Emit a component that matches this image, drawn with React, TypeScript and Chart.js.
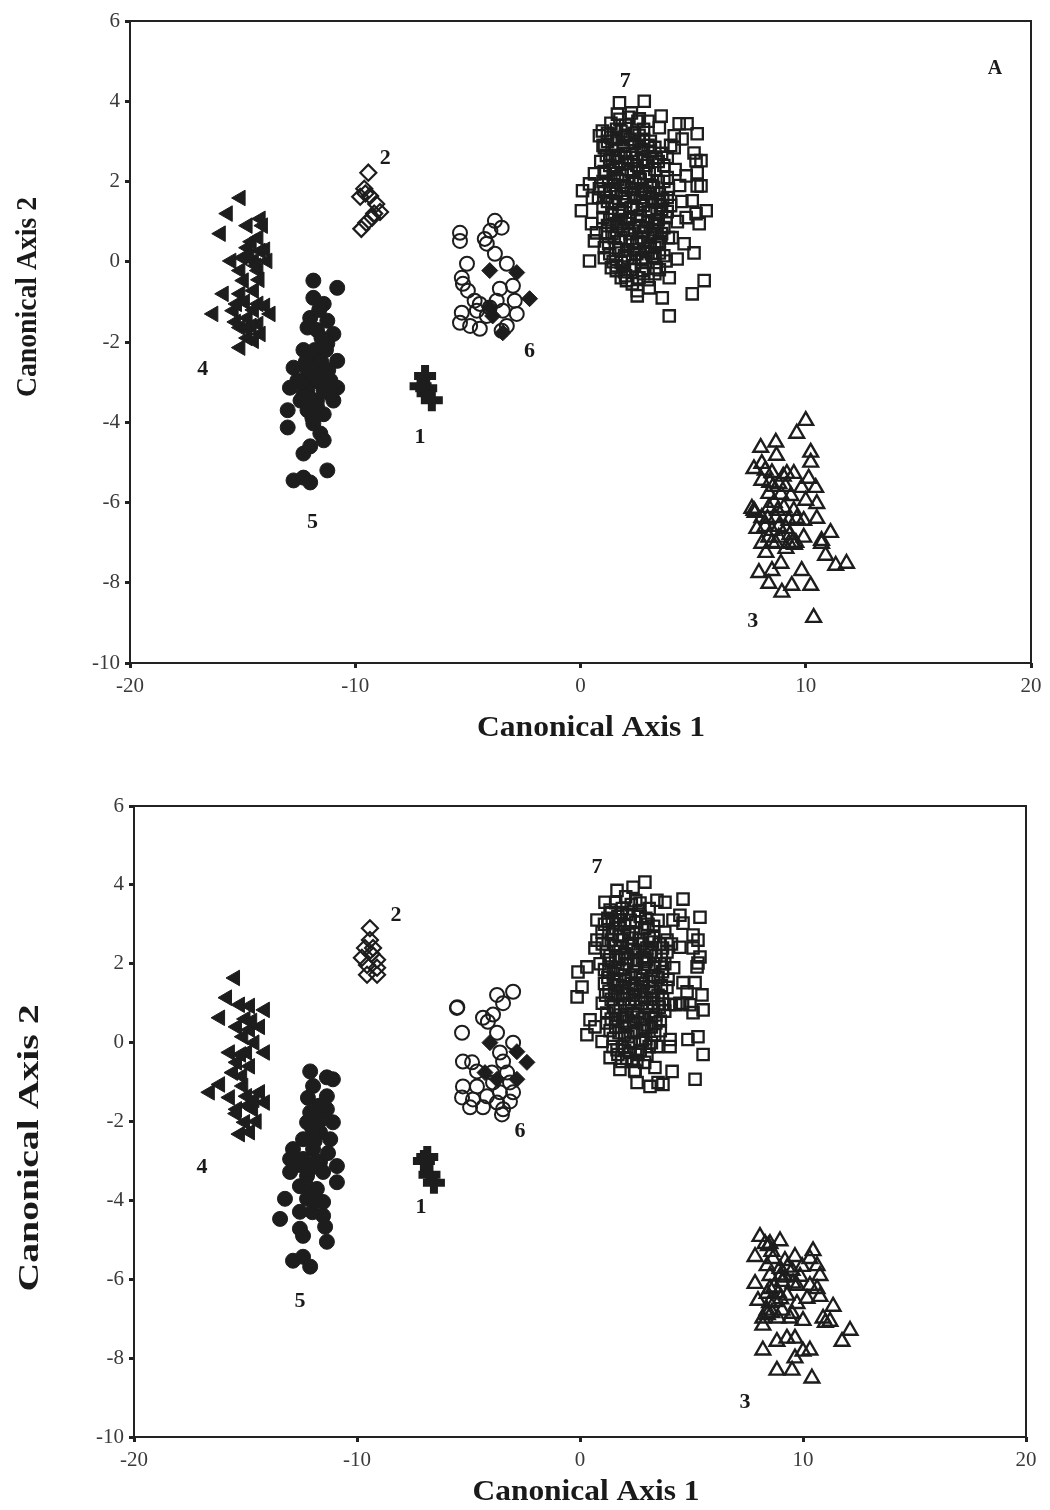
import React, { useEffect, useRef } from 'react';
import { Chart, registerables } from 'chart.js';
Chart.register(...registerables);

type P = [number, number];

const xTickValues = [-20, -10, 0, 10, 20];
const yTickValues = [-10, -8, -6, -4, -2, 0, 2, 4, 6];
const xTitle = 'Canonical Axis 1';
const yTitle = 'Canonical Axis 2';

// ---------- Panel A (top) ----------
const A_g1: P[] = [[-6.9, -2.85], [-7.1, -3.1], [-6.85, -3.15], [-6.6, -3.45]];
const A_g2: P[] = [[-9.42, 2.22], [-9.6, 1.82], [-9.34, 1.64], [-9.78, 1.62], [-9.07, 1.44], [-9.16, 1.2], [-8.9, 1.24], [-9.51, 0.97], [-9.73, 0.82], [-9.25, 1.1], [-9.55, 1.7]];
const A_g3: P[] = [
  [10.0, -3.96], [9.6, -4.28], [8.0, -4.63], [8.67, -4.5], [10.22, -4.75], [10.22, -5.0], [8.7, -4.83], [7.7, -5.16], [8.05, -5.03],
  [8.5, -5.26], [9.16, -5.28], [9.47, -5.28], [10.13, -5.4], [10.44, -5.63], [8.05, -5.45], [8.8, -5.53], [9.82, -5.63], [8.36, -5.78],
  [9.34, -5.83], [10.0, -5.95], [10.49, -6.03], [7.61, -6.15], [8.36, -6.13], [9.03, -6.13], [8.05, -6.38], [8.67, -6.38], [9.47, -6.2],
  [9.25, -6.45], [9.91, -6.45], [10.49, -6.4], [7.83, -6.65], [8.5, -6.7], [9.12, -6.65], [8.36, -6.87], [8.8, -6.87], [9.91, -6.87],
  [11.1, -6.75], [8.05, -7.02], [8.67, -7.02], [9.25, -7.02], [9.56, -7.0], [10.7, -7.02], [8.23, -7.25], [9.12, -7.15], [10.88, -7.32],
  [11.33, -7.57], [11.81, -7.52], [8.9, -7.52], [7.92, -7.75], [8.5, -7.7], [9.82, -7.7], [8.36, -8.02], [9.38, -8.07], [10.22, -8.07],
  [8.94, -8.24], [10.35, -8.87], [8.4, -5.5], [8.9, -5.8], [8.6, -6.0], [9.1, -5.6], [8.3, -6.4], [8.8, -6.6], [9.3, -6.8], [9.6, -6.4], [8.5, -7.0],
  [7.7, -6.2], [7.75, -6.25], [9.4, -7.0], [9.5, -7.05], [10.7, -6.95], [8.2, -5.2], [8.55, -5.6], [8.75, -6.2], [9.0, -5.35], [8.2, -6.6]
];
const A_g4: P[] = [
  [-15.09, 1.59], [-15.66, 1.2], [-14.2, 1.07], [-14.78, 0.9], [-15.97, 0.7], [-14.78, 0.35], [-14.2, 0.27], [-15.5, 0.02], [-14.5, 0.02],
  [-13.9, 0.02], [-15.1, -0.22], [-14.3, -0.22], [-14.95, -0.47], [-15.84, -0.8], [-15.1, -0.8], [-14.5, -0.72], [-16.3, -1.3], [-15.4, -1.22],
  [-14.3, -1.05], [-13.76, -1.3], [-14.78, -1.4], [-15.1, -1.64], [-14.3, -1.55], [-14.2, -1.8], [-14.78, -1.9], [-15.1, -2.14], [-14.5, -1.97],
  [-14.6, 0.5], [-14.3, 0.6], [-15.0, 0.1], [-14.0, 0.3], [-14.4, -0.1], [-14.9, -1.0], [-14.5, -1.2], [-14.0, -1.1], [-14.6, -1.6], [-15.3, -1.5],
  [-14.1, 0.9], [-14.7, 0.15], [-14.25, -0.45], [-15.25, -1.05], [-14.85, -1.65]
];
const A_g5: P[] = [
  [-11.86, -0.47], [-10.8, -0.65], [-11.86, -0.9], [-11.4, -1.05], [-12.0, -1.4], [-11.24, -1.47], [-12.12, -1.64], [-10.97, -1.8],
  [-11.24, -2.04], [-12.3, -2.2], [-11.86, -2.4], [-10.8, -2.47], [-12.74, -2.64], [-12.12, -2.7], [-11.55, -2.7], [-12.57, -2.96],
  [-11.86, -2.96], [-11.1, -2.96], [-12.9, -3.14], [-12.12, -3.2], [-11.4, -3.2], [-10.8, -3.14], [-12.43, -3.46], [-11.7, -3.46],
  [-10.97, -3.46], [-12.12, -3.7], [-11.4, -3.8], [-13.0, -3.7], [-13.0, -4.13], [-11.86, -4.03], [-11.55, -4.28], [-11.4, -4.45],
  [-12.3, -4.78], [-11.24, -5.2], [-12.74, -5.45], [-12.3, -5.38], [-12.0, -5.5], [-11.8, -2.2], [-11.5, -2.5], [-12.0, -3.4],
  [-11.6, -3.0], [-12.3, -3.3], [-11.9, -3.9], [-11.3, -2.2], [-11.7, -1.7], [-11.6, -1.2], [-11.5, -1.9], [-12.2, -2.5], [-11.2, -2.7],
  [-11.7, -3.6], [-12.4, -3.0], [-11.1, -3.3], [-12.0, -4.6]
];
const A_g6: P[] = [
  [-5.35, 0.72], [-5.35, 0.52], [-3.8, 1.02], [-3.5, 0.85], [-4.0, 0.77], [-4.25, 0.57], [-4.16, 0.45], [-3.8, 0.2], [-5.04, -0.05],
  [-3.27, -0.05], [-5.27, -0.4], [-5.22, -0.55], [-3.58, -0.67], [-3.0, -0.6], [-5.0, -0.72], [-4.7, -0.97], [-4.47, -1.05], [-3.72, -0.97],
  [-2.92, -0.97], [-5.27, -1.27], [-4.6, -1.22], [-4.03, -1.14], [-3.45, -1.22], [-2.83, -1.3], [-5.35, -1.52], [-4.9, -1.6], [-4.47, -1.67],
  [-3.5, -1.72], [-3.27, -1.6], [-4.16, -1.35]
];
const A_g6d: P[] = [[-4.03, -0.22], [-2.83, -0.27], [-2.26, -0.92], [-4.03, -1.14], [-3.9, -1.35], [-3.45, -1.77]];
const A_g7: P[] = [
  [1.73, 3.96], [2.83, 4.0], [1.64, 3.68], [2.26, 3.71], [3.58, 3.63], [2.61, 3.56], [4.38, 3.44], [4.73, 3.44], [5.18, 3.19], [0.97, 3.26],
  [0.84, 3.14], [3.5, 3.34], [4.16, 3.14], [4.51, 3.06], [1.06, 2.84], [4.16, 2.84], [5.04, 2.71], [5.13, 2.52], [5.35, 2.52], [5.18, 2.22],
  [4.69, 2.14], [0.62, 2.19], [0.4, 1.94], [0.09, 1.77], [5.18, 1.89], [5.35, 1.89], [0.84, 1.82], [0.04, 1.27], [0.53, 1.59], [5.58, 1.27],
  [4.96, 1.52], [5.13, 1.2], [4.69, 1.1], [5.27, 0.95], [0.49, 0.95], [0.71, 0.72], [0.62, 0.52], [1.06, 0.35], [4.6, 0.45], [5.04, 0.22],
  [4.07, 0.6], [0.4, 0.02], [1.06, 0.1], [1.37, -0.15], [1.81, -0.4], [2.3, -0.55], [2.52, -0.72], [2.52, -0.85], [3.05, -0.65], [3.63, -0.9],
  [3.94, -0.4], [3.8, 0.02], [4.29, 0.07], [5.49, -0.47], [4.96, -0.8], [3.94, -1.35], [2.04, -0.47], [1.59, -0.22], [2.74, -0.22], [3.36, -0.15],
  [3.5, 0.22], [1.81, -0.02],
  [1.2, 3.2], [1.6, 3.3], [2.0, 3.4], [2.4, 3.2], [2.8, 3.3], [3.1, 3.0], [1.0, 2.9], [1.4, 2.8], [1.9, 2.9], [2.3, 2.7], [2.7, 2.8], [3.2, 2.6],
  [3.6, 2.7], [4.0, 2.9], [0.9, 2.5], [1.3, 2.4], [1.7, 2.5], [2.1, 2.3], [2.5, 2.4], [2.9, 2.2], [3.3, 2.3], [3.7, 2.4], [4.2, 2.3],
  [1.0, 2.0], [1.5, 2.1], [1.9, 1.9], [2.3, 2.0], [2.7, 1.8], [3.1, 1.9], [3.5, 1.7], [3.9, 1.8], [4.4, 1.9],
  [0.8, 1.6], [1.2, 1.5], [1.6, 1.7], [2.0, 1.5], [2.4, 1.6], [2.8, 1.4], [3.2, 1.5], [3.6, 1.3], [4.0, 1.4], [4.5, 1.5],
  [1.0, 1.1], [1.4, 1.2], [1.8, 1.0], [2.2, 1.1], [2.6, 0.9], [3.0, 1.0], [3.4, 0.9], [3.8, 1.1], [4.3, 1.0],
  [1.1, 0.7], [1.5, 0.6], [1.9, 0.8], [2.3, 0.5], [2.7, 0.6], [3.1, 0.4], [3.5, 0.5], [3.9, 0.6],
  [1.3, 0.2], [1.7, 0.3], [2.1, 0.1], [2.5, 0.2], [2.9, 0.0], [3.3, 0.1], [1.6, -0.1], [2.2, -0.2], [2.8, -0.3], [3.5, -0.2],
  [1.5, 2.2], [2.6, 2.1], [1.3, 1.8], [2.9, 1.7], [1.7, 1.3], [2.5, 1.3], [3.4, 1.2], [2.1, 0.8], [2.4, 0.3], [1.9, 3.1], [2.6, 3.0],
  [3.0, 2.5], [2.0, 2.6], [1.1, 2.2], [3.7, 2.0], [3.3, 0.7], [1.4, 0.9],
  [1.2, 3.0], [1.6, 3.05], [2.0, 3.15], [2.4, 2.95], [2.8, 3.05], [3.3, 2.85], [1.15, 2.65], [1.55, 2.6], [1.95, 2.7], [2.35, 2.5],
  [2.75, 2.55], [3.1, 2.75], [3.45, 2.5], [3.85, 2.6], [1.05, 2.25], [1.45, 2.3], [1.85, 2.15], [2.25, 2.25], [2.65, 2.05], [3.05, 2.2],
  [3.45, 2.0], [3.85, 2.1], [1.05, 1.75], [1.45, 1.9], [1.85, 1.7], [2.25, 1.8], [2.65, 1.6], [3.05, 1.7], [3.45, 1.5], [3.85, 1.6],
  [1.0, 1.35], [1.4, 1.45], [1.85, 1.25], [2.25, 1.35], [2.65, 1.15], [3.05, 1.25], [3.45, 1.05], [3.85, 1.25], [1.2, 0.9], [1.6, 0.95],
  [2.0, 1.05], [2.4, 0.85], [2.8, 0.75], [3.2, 0.8], [3.6, 0.7], [1.25, 0.45], [1.7, 0.5], [2.1, 0.3], [2.5, 0.45], [2.9, 0.25],
  [3.3, 0.35], [3.7, 0.15], [1.45, 0.0], [1.95, -0.25], [2.4, -0.1], [2.7, 0.1], [3.0, -0.45], [3.3, -0.3], [1.75, 3.55], [2.15, 3.6],
  [2.55, 3.5], [1.35, 3.45], [3.0, 3.5],
  [1.35, 3.1], [1.8, 3.25], [2.2, 3.05], [2.6, 3.15], [3.0, 2.9], [1.3, 2.55], [1.7, 2.65], [2.1, 2.45], [2.5, 2.6], [2.9, 2.4], [3.35, 2.6],
  [1.25, 2.0], [1.65, 2.05], [2.05, 1.85], [2.45, 1.95], [2.85, 1.75], [3.25, 1.85], [3.65, 1.55], [1.15, 1.6], [1.55, 1.5], [1.95, 1.6],
  [2.35, 1.4], [2.75, 1.5], [3.15, 1.3], [3.55, 1.4], [1.3, 1.05], [1.7, 1.15], [2.1, 0.95], [2.5, 1.05], [2.9, 0.85], [3.3, 0.95],
  [3.7, 0.85], [1.4, 0.7], [1.8, 0.6], [2.2, 0.7], [2.6, 0.5], [3.0, 0.6], [3.4, 0.45], [1.55, 0.35], [1.95, 0.15], [2.35, 0.3],
  [2.75, 0.05], [3.15, 0.2], [2.0, -0.35], [2.6, -0.4]
];
const A_labelText = ['1', '2', '3', '4', '5', '6', '7', 'A'];
const A_labelX = [-7.12, -8.67, 7.65, -16.77, -11.9, -2.26, 1.99, 18.4];
const A_labelY = [-4.38, 2.59, -8.97, -2.67, -6.5, -2.22, 4.5, 4.8];

// ---------- Panel B (bottom) ----------
const B_g1: P[] = [[-6.85, -2.9], [-7.0, -3.0], [-6.75, -3.35], [-6.55, -3.55]];
const B_g2: P[] = [[-9.42, 2.9], [-9.42, 2.6], [-9.64, 2.4], [-9.28, 2.4], [-9.78, 2.15], [-9.1, 2.1], [-9.55, 1.97], [-9.1, 1.9], [-9.55, 1.72], [-9.1, 1.72], [-9.35, 2.25]];
const B_g3: P[] = [
  [8.07, -4.92], [8.97, -5.03], [8.52, -5.1], [10.45, -5.28], [7.85, -5.43], [8.65, -5.48], [9.64, -5.43], [10.31, -5.48], [9.19, -5.53],
  [8.39, -5.66], [9.96, -5.68], [10.63, -5.66], [8.97, -5.73], [9.51, -5.78], [10.76, -5.91], [8.52, -5.91], [9.87, -5.93], [7.85, -6.11],
  [9.06, -6.06], [9.73, -6.16], [10.31, -6.16], [8.52, -6.24], [10.63, -6.24], [8.39, -6.36], [9.28, -6.41], [10.76, -6.44], [10.18, -6.49],
  [7.98, -6.54], [8.74, -6.57], [9.73, -6.62], [8.39, -6.79], [9.06, -6.79], [9.51, -6.87], [11.35, -6.69], [8.2, -6.99], [8.88, -6.99],
  [9.42, -6.99], [10.0, -7.05], [10.9, -6.99], [11.21, -7.07], [8.2, -7.17], [12.11, -7.3], [11.75, -7.58], [8.83, -7.58], [9.28, -7.5],
  [9.64, -7.5], [8.2, -7.8], [10.0, -7.83], [10.31, -7.8], [9.64, -8.0], [8.83, -8.31], [9.51, -8.31], [10.4, -8.51],
  [8.6, -5.3], [9.0, -5.9], [8.7, -6.2], [9.3, -5.7], [8.5, -6.6], [9.0, -6.5], [8.3, -5.1], [8.45, -5.15], [11.0, -7.1], [8.4, -6.9],
  [9.2, -5.95], [8.9, -6.35], [8.6, -6.85], [9.55, -6.1]
];
const B_g4: P[] = [
  [-15.47, 1.64], [-15.83, 1.14], [-15.25, 0.96], [-14.8, 0.93], [-14.13, 0.83], [-16.14, 0.63], [-15.38, 0.4], [-14.8, 0.33], [-14.35, 0.4],
  [-15.1, 0.15], [-15.7, -0.25], [-14.93, -0.25], [-14.13, -0.25], [-15.38, -0.5], [-14.8, -0.6], [-15.56, -0.76], [-16.14, -1.06],
  [-16.6, -1.26], [-15.7, -1.39], [-14.93, -1.36], [-14.35, -1.26], [-15.38, -1.69], [-14.66, -1.69], [-14.13, -1.52], [-15.02, -2.02],
  [-15.25, -2.32], [-14.8, -2.27], [-15.0, 0.6], [-14.6, 0.0], [-15.2, -0.3], [-14.9, -1.6], [-15.4, -1.8], [-14.5, -2.0], [-15.1, -1.1],
  [-14.7, 0.55], [-15.15, -0.85], [-14.6, -1.45]
];
const B_g5: P[] = [
  [-12.1, -0.73], [-11.35, -0.88], [-11.08, -0.93], [-11.97, -1.1], [-11.35, -1.36], [-12.1, -1.77], [-11.35, -1.69], [-12.24, -2.02],
  [-11.08, -2.02], [-11.66, -2.27], [-12.42, -2.45], [-11.2, -2.45], [-12.87, -2.7], [-11.97, -2.7], [-13.0, -2.95], [-12.42, -2.95],
  [-11.66, -3.03], [-10.9, -3.13], [-13.0, -3.28], [-12.24, -3.38], [-11.52, -3.28], [-10.9, -3.54], [-12.56, -3.64], [-11.8, -3.71],
  [-12.24, -3.96], [-11.52, -4.04], [-13.23, -3.96], [-13.45, -4.47], [-12.56, -4.29], [-11.52, -4.39], [-12.56, -4.72], [-12.42, -4.9],
  [-11.43, -4.67], [-11.35, -5.05], [-12.87, -5.53], [-12.42, -5.43], [-12.1, -5.68], [-12.0, -2.2], [-11.8, -3.0], [-12.1, -3.2],
  [-11.9, -2.5], [-12.3, -3.6], [-11.7, -1.6], [-12.0, -4.3], [-11.6, -1.95], [-12.6, -3.1], [-11.3, -2.8], [-11.9, -4.0], [-12.2, -1.4]
];
const B_g6: P[] = [
  [-5.52, 0.88], [-5.5, 0.9], [-3.72, 1.21], [-3.0, 1.29], [-3.45, 1.0], [-3.9, 0.71], [-4.35, 0.63], [-4.13, 0.53], [-5.29, 0.25], [-3.72, 0.25],
  [-3.0, 0.0], [-5.25, -0.48], [-4.84, -0.5], [-3.59, -0.25], [-3.45, -0.48], [-4.62, -0.73], [-3.95, -0.76], [-3.27, -0.76],
  [-5.25, -1.11], [-4.62, -1.11], [-3.9, -1.01], [-3.14, -1.01], [-5.29, -1.39], [-4.8, -1.44], [-4.17, -1.36], [-3.59, -1.26],
  [-3.0, -1.26], [-4.93, -1.64], [-4.35, -1.64], [-3.72, -1.52], [-3.14, -1.49], [-3.45, -1.69], [-3.5, -1.82]
];
const B_g6d: P[] = [[-4.04, 0.0], [-2.83, -0.23], [-2.38, -0.5], [-4.26, -0.76], [-2.83, -0.93], [-3.72, -0.93]];
const B_g7: P[] = [
  [2.91, 4.07], [2.38, 3.94], [1.66, 3.86], [4.62, 3.64], [1.12, 3.56], [3.45, 3.61], [3.81, 3.56], [2.69, 3.54], [1.35, 3.36], [5.38, 3.18],
  [0.76, 3.11], [4.48, 3.23], [4.17, 3.11], [4.62, 3.03], [0.99, 2.8], [5.07, 2.73], [5.29, 2.6], [0.76, 2.6], [0.67, 2.4], [5.07, 2.4],
  [4.48, 2.42], [5.38, 2.17], [5.29, 2.02], [0.31, 1.92], [-0.09, 1.79], [5.25, 1.92], [0.09, 1.41], [-0.13, 1.16], [5.16, 1.52], [5.47, 1.21],
  [4.62, 1.52], [4.8, 1.29], [4.48, 1.0], [4.93, 0.96], [5.07, 0.76], [5.52, 0.83], [0.45, 0.58], [0.67, 0.4], [0.31, 0.2], [0.99, 0.03],
  [1.48, -0.1], [1.35, -0.38], [1.88, -0.48], [1.79, -0.68], [2.33, -0.48], [2.47, -0.73], [2.56, -1.01], [3.14, -1.11], [3.5, -1.01],
  [3.72, -1.06], [3.36, -0.63], [4.13, -0.73], [5.16, -0.93], [5.52, -0.3], [4.84, 0.08], [5.29, 0.15], [4.04, -0.1], [3.45, -0.1],
  [4.04, 0.08], [2.69, 0.0], [1.66, -0.18], [3.7, 0.98], [4.0, 0.97], [4.3, 0.96], [4.6, 0.98],
  [1.4, 3.3], [1.9, 3.4], [2.3, 3.5], [2.7, 3.2], [3.1, 3.4], [3.5, 3.1], [1.1, 3.0], [1.6, 2.9], [2.0, 3.0], [2.5, 2.8], [2.9, 2.9],
  [3.3, 2.7], [3.8, 2.8], [4.1, 2.5], [1.0, 2.5], [1.4, 2.6], [1.8, 2.4], [2.2, 2.5], [2.6, 2.3], [3.0, 2.4], [3.4, 2.2], [3.9, 2.3],
  [0.9, 2.0], [1.3, 2.1], [1.7, 1.9], [2.1, 2.0], [2.5, 1.8], [2.9, 1.9], [3.3, 1.7], [3.7, 1.8], [4.2, 1.9],
  [1.1, 1.5], [1.5, 1.6], [1.9, 1.4], [2.3, 1.5], [2.7, 1.3], [3.1, 1.4], [3.5, 1.2], [3.9, 1.4],
  [1.0, 1.0], [1.4, 1.1], [1.8, 0.9], [2.2, 1.0], [2.6, 0.8], [3.0, 0.9], [3.4, 0.7], [3.8, 0.8],
  [1.2, 0.5], [1.6, 0.6], [2.0, 0.4], [2.4, 0.5], [2.8, 0.3], [3.2, 0.4], [3.6, 0.3],
  [1.5, 0.1], [1.9, -0.1], [2.3, 0.0], [2.7, -0.2], [3.1, -0.1], [2.1, -0.4], [2.9, -0.5],
  [1.6, 2.2], [2.4, 2.1], [2.0, 1.7], [2.8, 1.6], [1.7, 1.2], [2.5, 1.1], [2.1, 0.7], [3.3, 1.0], [1.3, 1.8], [3.6, 2.0], [2.2, 2.8],
  [1.8, 3.1], [3.0, 2.1], [1.5, 0.9],
  [1.25, 3.15], [1.7, 3.2], [2.1, 3.25], [2.5, 3.05], [2.95, 3.15], [3.3, 2.95], [1.3, 2.8], [1.75, 2.7], [2.2, 2.75], [2.65, 2.6],
  [3.1, 2.65], [3.55, 2.5], [3.9, 2.6], [1.2, 2.3], [1.6, 2.45], [2.0, 2.25], [2.4, 2.35], [2.8, 2.15], [3.2, 2.3], [3.65, 2.2],
  [1.1, 1.85], [1.5, 1.75], [1.9, 1.85], [2.3, 1.65], [2.7, 1.7], [3.1, 1.55], [3.5, 1.65], [3.95, 1.6], [1.3, 1.3], [1.7, 1.45],
  [2.1, 1.25], [2.5, 1.35], [2.9, 1.15], [3.3, 1.3], [3.7, 1.1], [1.2, 0.75], [1.6, 0.8], [2.0, 0.65], [2.4, 0.75], [2.8, 0.6],
  [3.2, 0.65], [3.6, 0.55], [1.35, 0.3], [1.75, 0.25], [2.15, 0.15], [2.55, 0.3], [2.95, 0.1], [3.35, 0.2], [1.7, -0.3], [2.25, -0.25],
  [2.55, -0.45], [3.0, -0.3], [2.45, -0.7], [1.6, 3.55], [2.05, 3.7], [2.5, 3.6],
  [1.45, 3.1], [1.85, 3.3], [2.25, 3.1], [2.65, 3.35], [3.05, 3.0], [1.45, 2.75], [1.9, 2.6], [2.35, 2.65], [2.8, 2.5], [3.25, 2.55],
  [3.7, 2.4], [1.35, 2.2], [1.75, 2.1], [2.15, 2.15], [2.55, 2.0], [2.95, 2.05], [3.35, 1.9], [3.8, 2.0], [1.25, 1.65], [1.65, 1.55],
  [2.05, 1.6], [2.45, 1.45], [2.85, 1.5], [3.25, 1.4], [3.65, 1.45], [1.15, 1.2], [1.55, 1.25], [1.95, 1.1], [2.35, 1.2], [2.75, 1.0],
  [3.15, 1.1], [3.55, 0.9], [1.4, 0.6], [1.8, 0.7], [2.2, 0.55], [2.6, 0.65], [3.0, 0.45], [3.4, 0.5], [1.6, 0.4], [2.0, 0.2],
  [2.4, 0.25], [2.8, 0.05], [3.2, 0.0], [2.0, -0.2], [2.6, -0.3]
];
const B_labelText = ['1', '2', '3', '4', '5', '6', '7'];
const B_labelX = [-7.13, -8.25, 7.4, -16.95, -12.56, -2.69, 0.76];
const B_labelY = [-4.17, 3.23, -9.12, -3.16, -6.57, -2.25, 4.44];

const INK = '#1d1d1d';
const NONE = 'rgba(0,0,0,0)';

const toXY = (arr: P[]) => arr.map(([x, y]) => ({ x, y }));

function buildDatasets(g1: P[], g2: P[], g3: P[], g4: P[], g5: P[], g6: P[], g6d: P[], g7: P[]) {
  return [
    { label: '7', data: toXY(g7), pointStyle: 'rect', pointRadius: 8, borderWidth: 2.3, borderColor: INK, backgroundColor: NONE },
    { label: '3', data: toXY(g3), pointStyle: 'triangle', pointRadius: 8.5, borderWidth: 2.4, borderColor: INK, backgroundColor: NONE },
    { label: '6', data: toXY(g6), pointStyle: 'circle', pointRadius: 7, borderWidth: 2, borderColor: INK, backgroundColor: NONE },
    { label: '6b', data: toXY(g6d), pointStyle: 'rectRot', pointRadius: 8, borderWidth: 1, borderColor: INK, backgroundColor: INK },
    { label: '2', data: toXY(g2), pointStyle: 'rectRot', pointRadius: 8, borderWidth: 2.2, borderColor: INK, backgroundColor: NONE },
    { label: '4', data: toXY(g4), pointStyle: 'triangle', pointRotation: -90, pointRadius: 9, borderWidth: 1, borderColor: INK, backgroundColor: INK },
    { label: '5', data: toXY(g5), pointStyle: 'circle', pointRadius: 7.5, borderWidth: 1, borderColor: INK, backgroundColor: INK },
    { label: '1', data: toXY(g1), pointStyle: 'cross', pointRadius: 11, borderWidth: 8, borderColor: INK, backgroundColor: INK },
  ];
}

interface PanelCfg {
  datasets: any[];
  labelText: string[];
  labelX: number[];
  labelY: number[];
  yAxisWidth: number;
  xAxisHeight: number;
  padRight: number;
  padTop: number;
  yTitlePos: [number, number, number];
  xTitlePos: [number, number, number];
  tickPadX: number;
}

function makeOptions(cfg: PanelCfg): any {
  const tickFont = { family: '"Liberation Serif", "Times New Roman", serif', size: 21 };
  return {
    animation: false,
    responsive: false,
    maintainAspectRatio: false,
    events: [],
    layout: { padding: { left: 0, right: cfg.padRight, top: cfg.padTop, bottom: 0 } },
    plugins: { legend: { display: false }, tooltip: { enabled: false }, title: { display: false } },
    scales: {
      x: {
        type: 'linear',
        min: -20,
        max: 20,
        afterBuildTicks: (s: any) => { s.ticks = xTickValues.map((v) => ({ value: v })); },
        afterFit: (s: any) => { s.height = cfg.xAxisHeight; },
        ticks: { font: tickFont, color: '#3a3a3a', padding: cfg.tickPadX, maxRotation: 0, autoSkip: false },
        grid: { display: true, drawOnChartArea: false, drawTicks: true, tickLength: 5, lineWidth: 3, color: '#222' },
        border: { display: false },
      },
      y: {
        type: 'linear',
        min: -10,
        max: 6,
        afterBuildTicks: (s: any) => { s.ticks = yTickValues.map((v) => ({ value: v })); },
        afterFit: (s: any) => { s.width = cfg.yAxisWidth; },
        ticks: { font: tickFont, color: '#3a3a3a', padding: 5, autoSkip: false },
        grid: { display: true, drawOnChartArea: false, drawTicks: true, tickLength: 5, lineWidth: 3, color: '#222' },
        border: { display: false },
      },
    },
  };
}

function stretchedText(ctx: CanvasRenderingContext2D, text: string, cx: number, cy: number, len: number, rot: number, font: string) {
  ctx.save();
  ctx.font = font;
  const w = ctx.measureText(text).width;
  ctx.translate(cx, cy);
  ctx.rotate(rot);
  ctx.scale(len / w, 1);
  ctx.textAlign = 'center';
  ctx.textBaseline = 'middle';
  ctx.fillStyle = '#1a1a1a';
  ctx.fillText(text, 0, 0);
  ctx.restore();
}

function makePlugin(cfg: PanelCfg) {
  return {
    id: 'decor',
    beforeDatasetsDraw(chart: any) {
      const { ctx, chartArea } = chart;
      ctx.save();
      ctx.strokeStyle = '#222';
      ctx.lineWidth = 2;
      ctx.strokeRect(chartArea.left, chartArea.top, chartArea.right - chartArea.left, chartArea.bottom - chartArea.top);
      ctx.restore();
    },
    afterDraw(chart: any) {
      const { ctx } = chart;
      const xs = chart.scales.x;
      const ys = chart.scales.y;
      ctx.save();
      ctx.fillStyle = '#1a1a1a';
      ctx.textAlign = 'center';
      ctx.textBaseline = 'middle';
      cfg.labelText.forEach((t, i) => {
        ctx.font = t === 'A' ? 'bold 20px "Liberation Serif", serif' : 'bold 22px "Liberation Serif", serif';
        ctx.fillText(t, xs.getPixelForValue(cfg.labelX[i]), ys.getPixelForValue(cfg.labelY[i]));
      });
      ctx.restore();
      const tf = 'bold 30px "Liberation Serif", serif';
      stretchedText(ctx, yTitle, cfg.yTitlePos[0], cfg.yTitlePos[1], cfg.yTitlePos[2], -Math.PI / 2, tf);
      stretchedText(ctx, xTitle, cfg.xTitlePos[0], cfg.xTitlePos[1], cfg.xTitlePos[2], 0, tf);
    },
  };
}

const panelA: PanelCfg = {
  datasets: buildDatasets(A_g1, A_g2, A_g3, A_g4, A_g5, A_g6, A_g6d, A_g7),
  labelText: A_labelText,
  labelX: A_labelX,
  labelY: A_labelY,
  yAxisWidth: 130,
  xAxisHeight: 97,
  padRight: 17,
  padTop: 21,
  yTitlePos: [28, 297, 200],
  xTitlePos: [591, 728, 228],
  tickPadX: 6,
};

const panelB: PanelCfg = {
  datasets: buildDatasets(B_g1, B_g2, B_g3, B_g4, B_g5, B_g6, B_g6d, B_g7),
  labelText: B_labelText,
  labelX: B_labelX,
  labelY: B_labelY,
  yAxisWidth: 134,
  xAxisHeight: 73,
  padRight: 24,
  padTop: 46,
  yTitlePos: [30, 388, 287],
  xTitlePos: [586, 732, 227],
  tickPadX: 6,
};

function Panel({ cfg, top, height }: { cfg: PanelCfg; top: number; height: number }) {
  const ref = useRef<HTMLCanvasElement | null>(null);
  useEffect(() => {
    if (!ref.current) return;
    const chart = new Chart(ref.current, {
      type: 'scatter',
      data: { datasets: cfg.datasets },
      options: makeOptions(cfg),
      plugins: [makePlugin(cfg)],
    } as any);
    return () => chart.destroy();
  }, [cfg]);
  return (
    <div style={{ position: 'absolute', left: 0, top, width: 1050, height }}>
      <canvas ref={ref} width={1050} height={height} style={{ width: 1050, height }} />
    </div>
  );
}

export default function App() {
  return (
    <div style={{ position: 'absolute', left: 0, top: 0, width: 1050, height: 1510, background: '#fff' }}>
      <Panel cfg={panelA} top={0} height={760} />
      <Panel cfg={panelB} top={760} height={750} />
    </div>
  );
}
